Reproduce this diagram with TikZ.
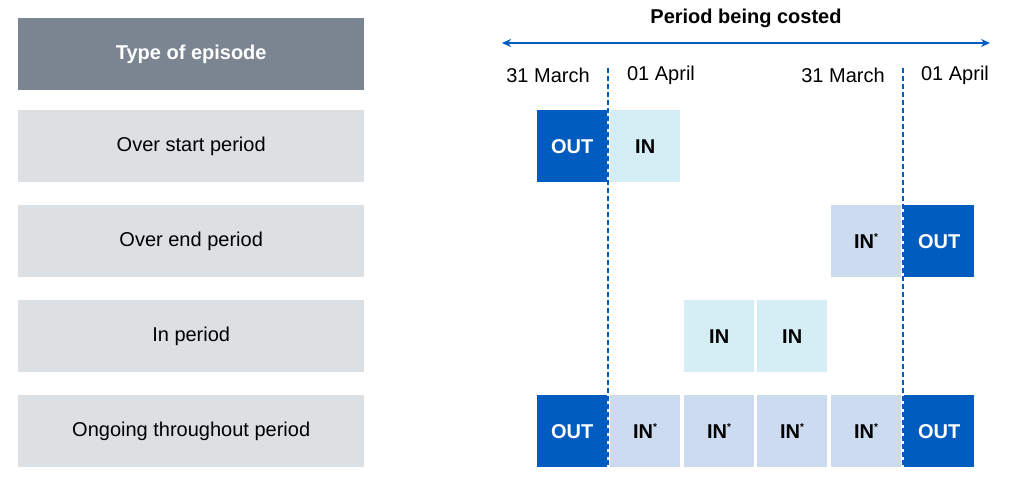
\documentclass[tikz,border=0pt]{standalone}
\usepackage{fontspec}
\setmainfont{Liberation Sans}
\usetikzlibrary{arrows.meta}
\definecolor{hdr}{HTML}{7A8591}
\definecolor{rowg}{HTML}{DCE0E3}
\definecolor{outc}{HTML}{005CBF}
\definecolor{inc}{HTML}{D5EEF6}
\definecolor{ins}{HTML}{CDDBF1}
\begin{document}
\begin{tikzpicture}[x=1pt,y=-1pt,
  lbl/.style={fill=rowg,minimum width=346pt,minimum height=72pt,anchor=north west,inner sep=0pt,font=\fontsize{20}{24}\selectfont},
  cell/.style={minimum width=70pt,minimum height=72pt,anchor=north west,inner sep=0pt,font=\fontsize{20}{24}\selectfont\bfseries},
  outb/.style={cell,fill=outc,text=white},
  inb/.style={cell,fill=inc},
  insb/.style={cell,fill=ins},
  dt/.style={font=\fontsize{20}{24}\selectfont}]
\useasboundingbox (0,0) rectangle (1015,487);
\node[lbl,fill=hdr,text=white,font=\fontsize{20}{24}\selectfont\bfseries] (h) at (18,18) {Type of episode};
\node[lbl] (r1) at (18,110) {Over start period};
\node[lbl] (r2) at (18,205) {Over end period};
\node[lbl] (r3) at (18,300) {In period};
\node[lbl] (r4) at (18,395) {Ongoing throughout period};
\def\st{IN\textsuperscript{\fontsize{10}{10}\selectfont *}}
\node[outb] (a1) at (537,110) {OUT};
\node[inb] (a2) at (610,110) {IN};
\node[insb] (b5) at (831,205) {\st};
\node[outb] (b6) at (904,205) {OUT};
\node[inb] (c3) at (684,300) {IN};
\node[inb] (c4) at (757,300) {IN};
\node[outb] (d1) at (537,395) {OUT};
\node[insb] (d2) at (610,395) {\st};
\node[insb] (d3) at (684,395) {\st};
\node[insb] (d4) at (757,395) {\st};
\node[insb] (d5) at (831,395) {\st};
\node[outb] (d6) at (904,395) {OUT};
\coordinate (la) at (502,43); \coordinate (ra) at (990,43);
\draw[outc,line width=1.5pt,{Stealth[length=9pt,width=8pt]}-{Stealth[length=9pt,width=8pt]}] (la) -- (ra);
\node[font=\fontsize{20}{24}\selectfont\bfseries] (t) at (746,18) {Period being costed};
\node[dt] (m1) at (548,75) {31 March};
\node[dt] (p1) at (661,75) {01 April};
\node[dt] (m2) at (843,75) {31 March};
\node[dt] (p2) at (955,75) {01 April};
\coordinate (l1t) at (608,68); \coordinate (l1b) at (608,467);
\coordinate (l2t) at (903,68); \coordinate (l2b) at (903,467);
\draw[outc,line width=1.3pt,dash pattern=on 5pt off 3pt] (l1t) -- (l1b);
\draw[outc,line width=1.3pt,dash pattern=on 5pt off 3pt] (l2t) -- (l2b);
\end{tikzpicture}
\end{document}
